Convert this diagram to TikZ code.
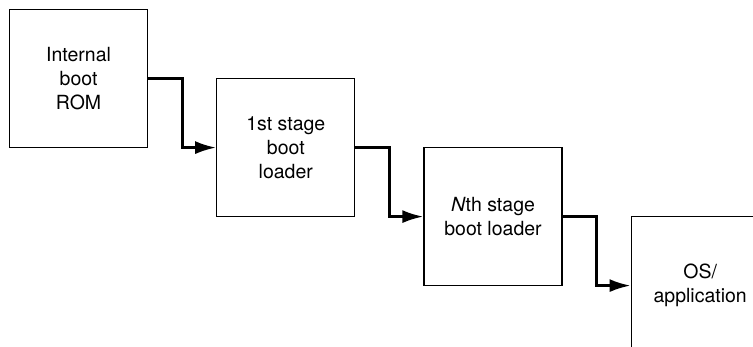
\documentclass[tikz,border=0pt]{standalone}
\usepackage{fontspec}
\setmainfont{TeX Gyre Heros}
\usetikzlibrary{positioning,calc}
\usetikzlibrary{arrows.meta}

\begin{document}
\begin{tikzpicture}[stagebox/.style={draw,line width=1.2pt,minimum width=138pt,minimum height=138pt,inner sep=0pt,align=center,font=\fontsize{19.5}{24}\selectfont},
	bootarrow/.style={line width=2.7pt,-{Latex[length=21pt,width=13pt]}}]
	\clip (0,0) rectangle (753pt,-347pt);

	\node[stagebox,anchor=north west] (rom) at (9pt,-9pt) {Internal\\boot\\ROM};
	\node[stagebox,right=68pt of rom,yshift=-69pt] (first) {1st stage\\boot\\loader};
	\node[stagebox,right=68pt of first,yshift=-69pt] (nth) {\textit{N}th stage\\boot loader};
	\node[stagebox,right=68pt of nth,yshift=-69pt] (os) {OS/\\application};

	\draw[bootarrow] (rom.east) -- ++(34pt,0) |- (first.west);
	\draw[bootarrow] (first.east) -- ++(34pt,0) |- (nth.west);
	\draw[bootarrow] (nth.east) -- ++(34pt,0) |- (os.west);
\end{tikzpicture}
\end{document}
